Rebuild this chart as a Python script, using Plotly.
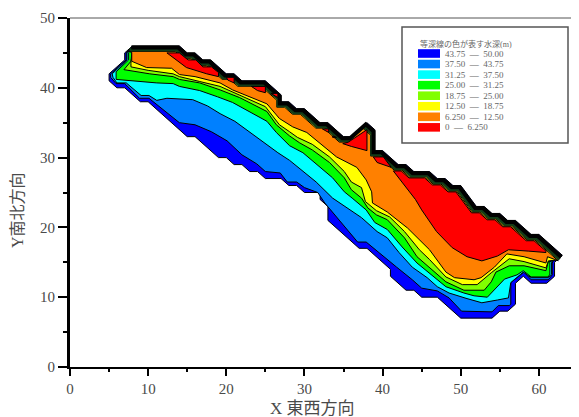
import plotly.graph_objects as go

# Map outline (top / shore side, from west to east, then south side)
top_edge = [(8,46),(14,46),(15,45),(16,45),(17,44),(18,44),(20,42),(21,42),(22,41),(25,41),(27,39),(27,38),(28,38),
            (29,37),(30,37),(32,35),(33,35),(35,33),(36,33),(38,35),(39,34),(39,31),(40,31),(42,29),(43,29),(44,28),
            (46,28),(47,27),(48,27),(49,26),(50,26),(52,23),(53,23),(54,22),(55,22),(56,21),(57,21),(59,19),(60,19),(63,16)]
outer_edge = [(7,45),(7,44),(5,42),(5,41),(6,40),(7,40),(9,38),(10,38),(15,33),(16,33),(19,30),(20,30),(21,29),(22,29),(23,28),
              (24,28),(25,27),(27,27),(28,26),(29,26),(30,25),(32,25),(32,24),(33,23),(33,21),(37,17),(38,17),(41,14),
              (41,13),(43,11),(44,11),(45,10),(47,10),(50,7),(54,7),(55,8),(56,8),(57,9),(57,12),(58,13),(59,12),(61,12),
              (62,13),(62,15),(63,16)]

# Contour lines: lower limit of each depth band
contour_43_75 = [(7.2,45),(7.2,44),(5.2,42),(5.2,41.5),(5.9,40.6),(7.0,40.6),(8.9,38.5),(10.1,38.5),(14.0,35.0),(16.0,34.7),
                 (18.1,33.7),(20.1,32.4),(22.0,30.4),(23.9,29.1),(25.0,28.0),(26.9,27.8),(27.8,26.5),(29.0,26.5),(30.0,25.7),
                 (31.7,25.0),(32.6,23.5),(33.6,22.1),(35.8,19.2),(36.8,17.9),(37.9,17.9),(40.9,15.1),(41.8,14.3),(43.8,12.5),
                 (45.0,11.3),(47.0,10.9),(48.5,9.9),(50.1,8.0),(54.0,7.9),(54.8,8.8),(56.2,8.8),(56.4,9.0),(56.4,12.1),
                 (58.1,13.6),(59.0,12.5),(61.2,12.5),(61.7,13.2),(61.7,14.9),(62.3,16.1)]
contour_37_50 = [(7.3,45),(7.3,44),(5.4,42),(5.5,41.5),(6.0,40.7),(7.2,40.7),(9.1,38.9),(10.1,38.9),(11.1,38.2),(12.4,38.5),
                 (15.7,38.3),(17.6,37.4),(19.2,36.3),(21.1,35.2),(23.0,33.7),(24.6,32.3),(26.6,30.7),(28.1,29.6),(29.8,28.0),
                 (31.5,26.5),(33.6,24.2),(35.8,22.5),(37.3,21.4),(39.3,19.4),(40.6,18.5),(42.1,16.4),(43.8,14.3),(45.7,12.8),
                 (47.0,11.5),(48.5,10.6),(50.8,9.8),(52.7,9.2),(54.7,9.6),(56.1,9.9),(56.4,12.1),(58.0,13.6),(59.0,12.8),
                 (61.2,12.8),(61.6,13.3),(61.6,14.9),(62.2,16.1)]
contour_31_25 = [(7.5,45),(7.5,44),(6.9,43.3),(5.9,42.3),(5.9,41.2),(8.9,40.9),(11.1,40.7),(13.2,40.6),(14.0,40.2),(16.6,39.6),
                 (18.9,38.7),(20.8,37.9),(23.0,36.6),(25.2,35.2),(26.4,33.6),(28.1,31.7),(29.8,30.7),(31.5,29.1),(33.6,27.1),
                 (35.1,25.1),(36.1,24.2),(37.9,22.5),(39.0,20.7),(40.6,19.7),(42.5,17.2),(44.4,14.9),(46.0,13.5),(48.1,11.5),
                 (50.4,10.6),(51.7,10.2),(53.4,10.0),(54.7,11.5),(55.6,12.6),(57.2,13.2),(58.0,13.8),(59.0,12.9),(61.2,12.9),
                 (61.4,13.3),(61.4,15.1)]
contour_25_00 = [(8,45),(7.8,43.8),(6.9,42.6),(6.9,42.5),(10.2,42.0),(13.2,41.6),(14.0,41.2),(16.6,40.7),(19.2,39.7),(21.7,38.6),
                 (25.2,36.6),(26.4,34.7),(28.1,33.1),(29.4,32.1),(31.0,31.1),(33.2,29.3),(35.1,27.1),(36.0,25.4),(37.3,24.2),
                 (38.1,22.8),(39.2,21.8),(40.6,21.1),(42.8,18.5),(44.4,15.8),(45.7,14.6),(48.1,12.2),(50.4,11.0),(53.0,11.0),
                 (53.9,12.2),(54.5,13.6),(56.2,14.5),(58.1,14.5),(60.9,13.8),(61.2,15.1)]
contour_18_75 = [(7.9,45),(7.8,43.5),(7.8,43.0),(10.0,42.5),(13.2,42.0),(14.0,41.6),(16.6,40.9),(19.2,40.2),(21.7,38.9),(25.0,37.3),
                 (26.8,34.7),(28.1,33.7),(29.1,32.9),(31.0,31.9),(33.2,30.1),(35.1,28.0),(36.0,26.5),(37.3,25.7),(37.8,23.7),
                 (39.2,22.4),(40.9,21.5),(42.8,19.4),(44.7,16.8),(46.0,15.4),(48.1,12.9),(50.2,11.8),(52.1,11.8),(53.9,13.5),
                 (56.2,15.5),(58.1,15.1),(60.9,14.2),(61.2,15.2)]
contour_12_50 = [(7.9,45.1),(7.9,43.8),(9.8,42.9),(13.0,42.8),(14.0,41.9),(16.0,41.6),(19.2,40.7),(20.8,39.7),(25.2,37.7),(26.8,35.6),
                 (28.5,34.4),(30.3,33.6),(31.9,32.1),(34.1,30.1),(36.7,28.6),(37.9,26.8),(38.6,25.1),(38.7,23.5),(40.6,22.2),
                 (43.2,19.9),(46.0,16.8),(48.1,13.6),(49.2,12.8),(51.7,12.5),(52.6,12.8),(54.3,14.3),(55.9,16.2),(58.1,15.8),
                 (60.9,14.9),(61.1,15.8)]
red_main_lower = [(44.2,24.0),(45.0,22.5),(46.9,19.4),(48.9,17.1),(50.8,15.8),(52.7,15.2),(54.7,15.9),(56.1,16.8),(58.7,16.6),
                  (60.9,16.4),(60.9,16.6)]
red_patches = [
    [(12.4,45.0),(14,45.0),(15.1,44),(16.1,44),(17,43),(18.1,43),(19,42.2),(19,41.6),(17.5,42),(14.9,42.9)],
    [(20,41.5),(21,41.5),(21,40.7),(20.2,41.1)],
    [(23.2,40.2),(25,40.2),(25,39.3),(24,39.6)],
    [(25.7,39.2),(26.6,39.2),(26.6,38.6)],
    [(32.3,34.1),(33.1,34.1),(33.1,33.6)],
    [(33.6,33.1),(34.1,32.9),(33.6,32.9)],
    [(34.9,32.0),(35.6,32.2),(38,34),(38,31),(36,31.6)],
    [(38.8,30.1),(40.1,30.1),(41.1,28.6),(39.3,29.3)],
]

band_colors = ["#0000ff", "#0080ff", "#00ffff", "#00ff00", "#80ff00", "#ffff00", "#ff8000", "#ff0000"]
band_labels = ["43.75  —  50.00", "37.50  —  43.75", "31.25  —  37.50", "25.00  —  31.25",
               "18.75  —  25.00", "12.50  —  18.75", "6.250  —  12.50", "0  ―  6.250"]
legend_title = "等深線の色が表す水深(m)"
x_ticks = [0, 10, 20, 30, 40, 50, 60]
y_ticks = [0, 10, 20, 30, 40, 50]

SX, SY = 0.09, 0.13
SERIF = "Liberation Serif, 'Noto Sans CJK JP'"
TEXT = "#4a4a4a"

def inset(edge, k):
    return [(x - SX * k, y - SY * k) for x, y in edge]

def poly(points, color):
    xs = [p[0] for p in points] + [points[0][0]]
    ys = [p[1] for p in points] + [points[0][1]]
    return go.Scatter(x=xs, y=ys, mode="lines", fill="toself", fillcolor=color,
                      line=dict(color="black", width=1), hoverinfo="skip", showlegend=False)

def rim(k, color, width):
    pts = inset(top_edge, k)
    return go.Scatter(x=[p[0] for p in pts], y=[p[1] for p in pts], mode="lines",
                      line=dict(color=color, width=width), hoverinfo="skip", showlegend=False)

fig = go.Figure()
fig.add_trace(poly(top_edge + outer_edge[::-1][1:], band_colors[0]))
contours = [contour_43_75, contour_37_50, contour_31_25, contour_25_00, contour_18_75, contour_12_50]
for k, c in enumerate(contours, start=1):
    fig.add_trace(poly(inset(top_edge, k) + c[::-1], band_colors[k]))
# dense contour lines along the shore read as a dark rim
fig.add_trace(rim(4.3, "#123c18", 3))
fig.add_trace(rim(1.8, "black", 4))

i0 = top_edge.index((42, 29))
i1 = top_edge.index((60, 19))
fig.add_trace(poly(inset(top_edge[i0:i1 + 1], 7) + red_main_lower[::-1], band_colors[7]))
for patch in red_patches:
    fig.add_trace(poly(patch, band_colors[7]))

# screen positions; the page body adds an 8 px offset
OFF = 8
L, R, T, B = 70, 578, 18, 367
FW, FH = 579 - OFF, 417 - OFF
px = lambda v: (v - L) / (R - L)
py = lambda v: (B - v) / (B - T)

shapes = [
    dict(type="line", xref="paper", yref="paper", x0=0, x1=1, y0=1, y1=1, line=dict(color="#555555", width=1)),
    dict(type="line", xref="paper", yref="paper", x0=1, x1=1, y0=0, y1=1, line=dict(color="#999999", width=1)),
    dict(type="rect", xref="paper", yref="paper", x0=px(402), x1=px(568), y0=py(143), y1=py(27),
         line=dict(color="#555555", width=1.5), fillcolor="white"),
]
annotations = [
    dict(text=legend_title, xref="paper", yref="paper", x=px(418), y=py(44), xanchor="left", yanchor="middle",
         showarrow=False, font=dict(family=SERIF, size=8, color="#666666")),
    dict(text="X 東西方向", xref="paper", yref="paper", x=px(312), y=py(408), xanchor="center", yanchor="middle",
         showarrow=False, font=dict(family=SERIF, size=17, color=TEXT)),
    dict(text="Y南北方向", xref="paper", yref="paper", x=px(17), y=py(210), xanchor="center", yanchor="middle",
         textangle=-90, showarrow=False, font=dict(family=SERIF, size=16, color=TEXT)),
]
row0, step = 53.5, 10.55
for i, (c, lab) in enumerate(zip(band_colors, band_labels)):
    yc = row0 + i * step
    shapes.append(dict(type="rect", xref="paper", yref="paper", x0=px(418), x1=px(440), y0=py(yc + 4.3), y1=py(yc - 4.3),
                       line=dict(width=0), fillcolor=c))
    annotations.append(dict(text=lab, xref="paper", yref="paper", x=px(443), y=py(yc), xanchor="left", yanchor="middle",
                            showarrow=False, font=dict(family=SERIF, size=9, color="#666666")))

fig.update_layout(
    width=FW, height=FH, autosize=False, showlegend=False,
    margin=dict(l=L - OFF, r=FW - (R - OFF), t=T - OFF, b=FH - (B - OFF), autoexpand=False),
    paper_bgcolor="white", plot_bgcolor="white",
    shapes=shapes, annotations=annotations,
    font=dict(family=SERIF, color=TEXT),
    xaxis=dict(range=[0, 65], tickmode="array", tickvals=x_ticks, ticks="outside", ticklen=7, tickwidth=2, tickcolor="black",
               showgrid=False, zeroline=False, showline=True, linecolor="black", linewidth=2, automargin=False,
               tickfont=dict(family=SERIF, size=15, color=TEXT),
               minor=dict(tickmode="array", tickvals=[5, 15, 25, 35, 45, 55, 65], ticks="outside", ticklen=3, tickwidth=2, tickcolor="black")),
    yaxis=dict(range=[0, 50], tickmode="array", tickvals=y_ticks, ticks="outside", ticklen=9, tickwidth=1.5, tickcolor="black",
               showgrid=False, zeroline=False, showline=True, linecolor="black", linewidth=3, automargin=False,
               tickfont=dict(family=SERIF, size=15, color=TEXT), ticksuffix="\u00a0\u00a0\u00a0",
               minor=dict(tickmode="array", tickvals=[5, 15, 25, 35, 45], ticks="outside", ticklen=4, tickwidth=1.5, tickcolor="black")),
)
fig.write_html("out.html")
